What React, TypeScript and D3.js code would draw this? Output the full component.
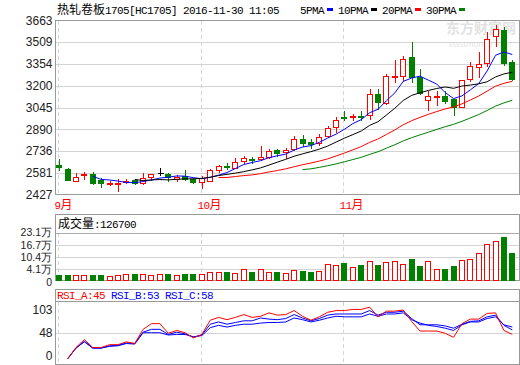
import * as d3 from "d3";

const W = 520;
const H = 365;

const titleText = "热轧卷板1705[HC1705] 2016-11-30 11:05";

// daily OHLC, 1 Sep 2016 .. 30 Nov 2016
const open = [
  2637, 2611, 2521, 2566, 2571, 2530, 2507, 2502, 2516, 2528,
  2507, 2549, 2578, 2573, 2535, 2559, 2535, 2514, 2525, 2601,
  2633, 2618, 2663, 2680, 2680, 2696, 2744, 2732, 2749, 2822,
  2803, 2792, 2846, 2906, 2981, 2977, 2988, 2993, 3143, 3077,
  3262, 3271, 3402, 3262, 3095, 3119, 3129, 3107, 3048, 3248,
  3333, 3362, 3551, 3599, 3366,
];
const high = [
  2678, 2618, 2578, 2589, 2589, 2542, 2523, 2535, 2539, 2530,
  2582, 2571, 2618, 2578, 2566, 2601, 2542, 2559, 2606, 2637,
  2649, 2689, 2701, 2696, 2768, 2749, 2753, 2756, 2846, 2851,
  2822, 2856, 2915, 2977, 3022, 2998, 3017, 3176, 3176, 3285,
  3385, 3409, 3508, 3319, 3159, 3159, 3159, 3107, 3243, 3366,
  3440, 3580, 3634, 3618, 3380,
];
const low = [
  2601, 2530, 2521, 2537, 2500, 2483, 2493, 2454, 2507, 2500,
  2502, 2530, 2566, 2525, 2525, 2530, 2507, 2471, 2525, 2589,
  2609, 2614, 2649, 2654, 2673, 2689, 2701, 2689, 2744, 2768,
  2756, 2780, 2839, 2874, 2953, 2953, 2958, 2965, 3034, 3070,
  3228, 3231, 3223, 3143, 3029, 3060, 3077, 2993, 3048, 3231,
  3262, 3337, 3480, 3350, 3238,
];
const close = [
  2621, 2530, 2549, 2573, 2511, 2507, 2511, 2511, 2521, 2507,
  2542, 2571, 2578, 2549, 2554, 2535, 2516, 2542, 2601, 2628,
  2628, 2658, 2685, 2673, 2692, 2735, 2725, 2744, 2820, 2796,
  2787, 2839, 2899, 2958, 2970, 2988, 2981, 3143, 3081, 3271,
  3268, 3389, 3262, 3148, 3129, 3129, 3088, 3048, 3243, 3342,
  3355, 3535, 3604, 3362, 3250,
];
const volume = [
  14800, 14800, 13300, 13300, 14800, 14800, 8200, 13300, 18400, 20000,
  18400, 14800, 18400, 20000, 13300, 20000, 20000, 18400, 28700, 28700,
  30300, 23600, 42100, 30300, 42100, 28700, 28700, 23600, 37000, 34000,
  30300, 34000, 70000, 64800, 71500, 54500, 61200, 85400, 61200, 80300,
  85400, 70000, 97200, 56100, 85400, 44300, 45700, 56100, 90500, 95700,
  126500, 172900, 188400, 205300, 126700,
];
const rsiA = [
  null, 2, 22, 36, 22, 22, 27, 27, 32, 29,
  54, 64, 64, 47, 52, 48, 39, 45, 70, 75,
  71, 75, 80, 75, 77, 83, 79, 80, 87, 77,
  70, 76, 84, 87, 87, 89, 89, 93, 76, 86,
  86, 88, 68, 51, 51, 51, 47, 40, 64, 72,
  72, 82, 83, 52, 45,
];
const rsiB = [
  null, 2, 21, 33, 21, 21, 25, 26, 30, 29,
  49, 54, 54, 45, 49, 46, 40, 44, 63, 67,
  63, 66, 69, 69, 74, 72, 71, 73, 80, 74,
  69, 73, 79, 81, 81, 81, 81, 87, 79, 84,
  84, 86, 73, 62, 62, 62, 60, 56, 63, 68,
  69, 76, 79, 61, 53,
];
const rsiC = [
  null, 2, 21, 32, 21, 21, 24, 25, 29, 28,
  48, 48, 48, 44, 45, 45, 41, 43, 57, 61,
  58, 61, 63, 63, 65, 66, 66, 67, 74, 71,
  67, 70, 74, 77, 76, 76, 76, 81, 77, 81,
  81, 83, 71, 65, 61, 59, 56, 52, 62, 67,
  67, 73, 76, 62, 58,
];

const monthLabels = ["9月", "10月", "11月"];
const monthStart = [0, 17, 34];

const priceTicks = [2427, 2581, 2736, 2890, 3045, 3200, 3354, 3509, 3663];
// the volume axis floor sits a little below zero in the original
const volDomain = [-16000, 231000];
const volTicks = [41000, 104000, 167000, 231000];
const rsiTicks = [0, 48, 103];

const maPeriods = [5, 10, 20, 30];
const maColors = ["#0000ff", "#000000", "#ff0000", "#008000"];

const RED = "#ff0000";
const GREEN = "#008000";
const FRAME = "#999999";
const GRID = "#d4d4d4";

const cjk = '"Noto Sans CJK SC", sans-serif';
const mono = '"Liberation Mono", monospace';
const sans = '"Liberation Sans", Arial, sans-serif';

// SimSun-like mix: wide CJK glyphs, narrow ascii
const Mixed = ({ text, x, y, fill }: { text: string; x: number; y: number; fill: string }) => {
  const parts = text.match(/[\u4e00-\u9fff]+|[^\u4e00-\u9fff]+/g) || [];
  return (
    <text x={x} y={y} fill={fill}>
      {parts.map((p, i) =>
        /[\u4e00-\u9fff]/.test(p) ? (
          <tspan key={i} fontFamily={cjk} fontSize={12}>{p}</tspan>
        ) : (
          <tspan key={i} fontFamily={mono} fontSize={11} letterSpacing={-0.6}>{p}</tspan>
        ),
      )}
    </text>
  );
};

export default function App() {
  const L = 55.5;
  const R = 519.5;
  const idx = d3.range(close.length);
  const x = d3.scalePoint<number>().domain(idx).range([59.2, 512.3]);
  const bw = Math.round(x.step() * 0.7);

  const yP = d3.scaleLinear().domain([2427, 3663]).range([194.5, 20.5]);
  const yV = d3.scaleLinear().domain(volDomain).range([280.5, 232.5]);
  const yR = d3.scaleLinear().domain([0, 103]).range([360, 301.5]);
  const volBase = yV(volDomain[0]);

  const mas = maPeriods.map((n) =>
    idx.map((i) => (i >= n - 1 ? d3.mean(close.slice(i - n + 1, i + 1)) ?? null : null)),
  );

  const priceLine = d3
    .line<number | null>()
    .defined((d) => d != null)
    .x((_, i) => x(i) as number)
    .y((d) => yP(d as number));
  const rsiLine = d3
    .line<number | null>()
    .defined((d) => d != null)
    .x((_, i) => x(i) as number)
    .y((d) => yR(d as number));

  const bodyX = (i: number) => Math.round((x(i) as number) - bw / 2) + 0.5;
  const cx = (i: number) => Math.round(x(i) as number) + 0.5;

  const legendX: number[] = [];
  let lx = 300;
  maPeriods.forEach((n) => {
    legendX.push(lx);
    lx += `${n}PMA`.length * 6 + 3 + 6 + 5;
  });

  return (
    <svg
      width={W}
      height={H}
      viewBox={`0 0 ${W} ${H}`}
      style={{ position: "absolute", left: 0, top: 0, background: "#fff" }}
    >
      <rect width={W} height={H} fill="#fff" />

      {/* watermark */}
      <g opacity={0.6}>
        <text x={446} y={33} fontFamily={cjk} fontSize={14} fontWeight="bold" fill="#cfcfcf">东方财富网</text>
        <text x={449} y={47} fontFamily={sans} fontSize={9} fill="#d6d6d6">eastmoney.com</text>
      </g>

      {/* title + legend */}
      <Mixed text={titleText} x={57} y={14} fill="#000" />
      {maPeriods.map((n, k) => (
        <g key={n}>
          <text x={legendX[k]} y={14} fontFamily={mono} fontSize={11} letterSpacing={-0.6} fill="#000">
            {`${n}PMA`}
          </text>
          <rect x={legendX[k] + `${n}PMA`.length * 6 + 3} y={8} width={6} height={3} fill={maColors[k]} />
        </g>
      ))}

      {/* main panel grid */}
      <g shapeRendering="crispEdges">
        {priceTicks.slice(1, -1).map((t) => (
          <line key={t} x1={L} x2={R} y1={Math.round(yP(t)) + 0.5} y2={Math.round(yP(t)) + 0.5} stroke={GRID} />
        ))}
        {monthStart.map((m) => (
          <g key={m}>
            <line x1={cx(m) - 1} x2={cx(m) - 1} y1={21} y2={194} stroke={GRID} strokeDasharray="4 3" />
            <line x1={cx(m) - 1} x2={cx(m) - 1} y1={233} y2={280} stroke={GRID} strokeDasharray="4 3" />
            <line x1={cx(m) - 1} x2={cx(m) - 1} y1={302} y2={364} stroke={GRID} strokeDasharray="4 3" />
          </g>
        ))}
        <rect x={L} y={20.5} width={R - L} height={174} fill="none" stroke={FRAME} />
      </g>
      {priceTicks.map((t) => (
        <text key={t} x={52.5} y={yP(t)} dy="0.35em" textAnchor="end" fontFamily={sans} fontSize={12} fill="#222">
          {t}
        </text>
      ))}

      {/* candles */}
      <g shapeRendering="crispEdges">
        {idx.map((i) => {
          const o = open[i];
          const c = close[i];
          const col = o === c ? "#000" : c > o ? RED : GREEN;
          const top = Math.round(yP(Math.max(o, c)));
          const bot = Math.round(yP(Math.min(o, c)));
          const h = Math.max(bot - top, 0);
          return (
            <g key={i}>
              <line x1={cx(i)} x2={cx(i)} y1={yP(high[i])} y2={top + 0.5} stroke={col} />
              <line x1={cx(i)} x2={cx(i)} y1={bot + 0.5} y2={yP(low[i]) + 1} stroke={col} />
              {o === c ? (
                <line x1={bodyX(i)} x2={bodyX(i) + bw} y1={top + 0.5} y2={top + 0.5} stroke={col} />
              ) : (
                <rect
                  x={bodyX(i)}
                  y={top + 0.5}
                  width={bw - 1}
                  height={Math.max(h, 1)}
                  fill={c > o ? "#fff" : GREEN}
                  stroke={col}
                />
              )}
            </g>
          );
        })}
      </g>

      {/* moving averages */}
      {mas.map((m, k) => (
        <path key={k} d={priceLine(m) || ""} fill="none" stroke={maColors[k]} strokeWidth={1} />
      ))}

      {/* month labels */}
      {monthStart.map((m, k) => (
        <Mixed key={m} text={monthLabels[k]} x={cx(m) - 5} y={209} fill={RED} />
      ))}

      {/* volume panel */}
      <g shapeRendering="crispEdges">
        {volTicks.map((t, k) => (
          <line
            key={t}
            x1={L}
            x2={R}
            y1={Math.round(yV(t)) + 0.5}
            y2={Math.round(yV(t)) + 0.5}
            stroke={k === volTicks.length - 1 ? "#aaaaaa" : GRID}
          />
        ))}
        <rect x={L} y={214.5} width={R - L} height={66} fill="none" stroke={FRAME} />
        {idx.map((i) => {
          const up = close[i] >= open[i];
          const top = Math.round(yV(volume[i])) + 0.5;
          return (
            <rect
              key={i}
              x={bodyX(i)}
              y={top}
              width={bw - 1}
              height={volBase - top}
              fill={up ? "#fff" : GREEN}
              stroke={up ? RED : GREEN}
            />
          );
        })}
      </g>
      <Mixed text={`成交量:${volume[volume.length - 1]}`} x={58} y={228} fill="#000" />
      {volTicks.map((t) => (
        <text key={t} x={52} y={yV(t)} dy="0.35em" textAnchor="end" fill="#222" fontSize={10.5} fontFamily={sans}>
          {`${(t / 10000).toFixed(1)}万`}
        </text>
      ))}
      <text x={52} y={volBase + 1.5} dy="0.35em" textAnchor="end" fill="#222" fontSize={10.5} fontFamily={sans}>
        0
      </text>

      {/* RSI panel */}
      <g shapeRendering="crispEdges">
        <line x1={L} x2={R} y1={Math.round(yR(48)) + 0.5} y2={Math.round(yR(48)) + 0.5} stroke={GRID} />
        <rect x={L} y={289.5} width={R - L} height={75} fill="none" stroke={FRAME} />
        <line x1={L} x2={R} y1={301.5} y2={301.5} stroke={FRAME} />
      </g>
      {rsiTicks.map((t) => (
        <text
          key={t}
          x={52.5}
          y={Math.min(Math.max(yR(t), 309.5), 355.5)}
          dy="0.35em"
          textAnchor="end"
          fontFamily={sans}
          fontSize={12}
          fill="#222"
        >
          {t}
        </text>
      ))}
      <path d={rsiLine(rsiC) || ""} fill="none" stroke="#0000ff" strokeWidth={1} />
      <path d={rsiLine(rsiB) || ""} fill="none" stroke="#0000ff" strokeWidth={1} />
      <path d={rsiLine(rsiA) || ""} fill="none" stroke={RED} strokeWidth={1} />
      <text x={57} y={298.5} fontFamily={mono} fontSize={11} letterSpacing={-0.6}>
        <tspan fill={RED}>{`RSI_A:${rsiA[rsiA.length - 1]}`}</tspan>
        <tspan fill="#0000ff">{` RSI_B:${rsiB[rsiB.length - 1]}`}</tspan>
        <tspan fill="#0000ff">{` RSI_C:${rsiC[rsiC.length - 1]}`}</tspan>
      </text>
    </svg>
  );
}
